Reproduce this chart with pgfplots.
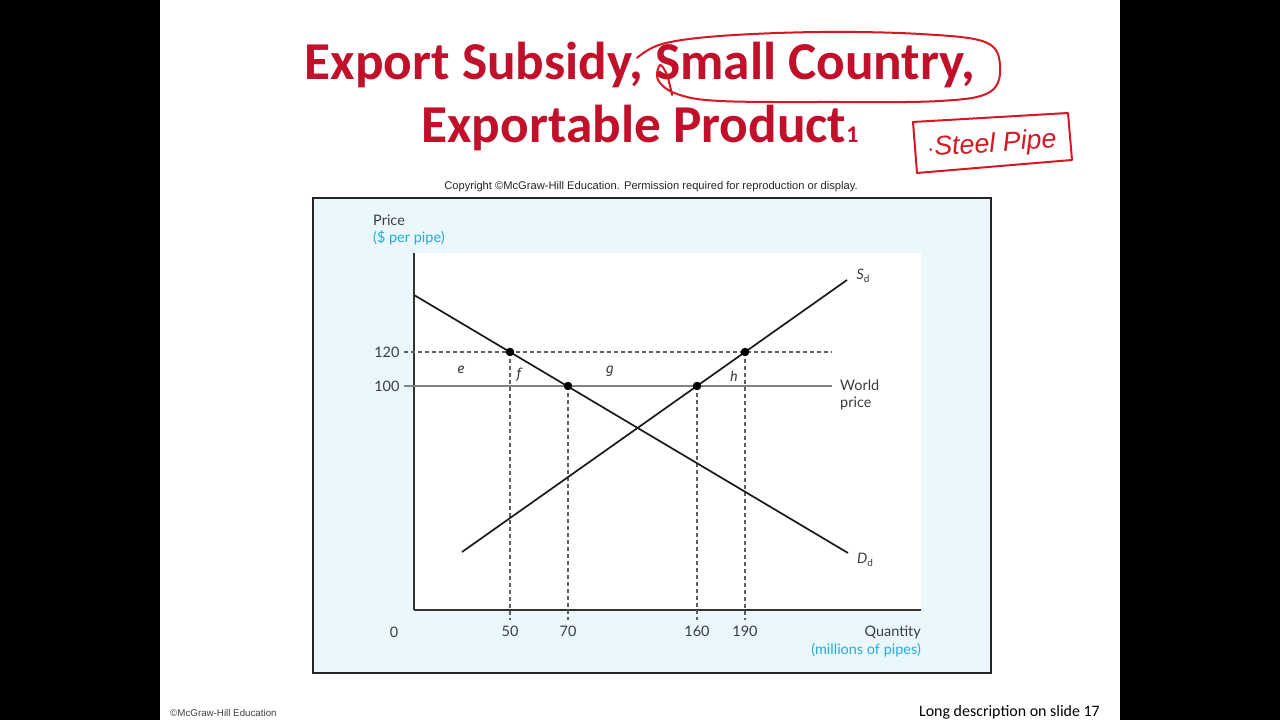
\documentclass[border=0pt]{standalone}
\usepackage{pgfplots}
\pgfplotsset{compat=1.18}
\usepackage{fontspec}
\setmainfont{Lato}
\newfontfamily\titlefont{Carlito}
\newfontfamily\arialfont{Liberation Sans}
\newfontfamily\letterfont{Fira Sans}
\definecolor{tred}{RGB}{192,16,42}
\definecolor{hred}{RGB}{214,24,34}
\definecolor{bgblue}{RGB}{234,247,252}
\definecolor{cyantext}{RGB}{38,170,222}
\definecolor{txt}{RGB}{60,60,60}
\definecolor{wgray}{RGB}{130,130,130}
\definecolor{dgray}{RGB}{95,95,95}
\begin{document}
\begin{tikzpicture}[x=1bp,y=1bp]
\useasboundingbox (0,0) rectangle (1280,720);
\fill[black] (0,0) rectangle (1280,720);
\fill[white] (160,0) rectangle (1120,720);
% title
\node[anchor=base, font=\titlefont\bfseries\fontsize{53.5}{60}\selectfont, text=tred, inner sep=0] at (640,640) {Export Subsidy, Small Country,};
\node[anchor=base, font=\titlefont\bfseries\fontsize{53.5}{60}\selectfont, text=tred, inner sep=0] at (640,577) {Exportable Product{\fontsize{24}{24}\selectfont 1}};
% handwriting ellipse
\draw[hred, line width=2bp, line cap=round, line join=round] plot[smooth, tension=0.6] coordinates {
 (637,662) (662,676) (720,684) (820,688) (920,686) (985,678) (1000,655) (990,628) (940,619) (830,618) (720,619) (677,626) (658,640) (660,655) (667,645) (672,625)};
% steel pipe box
\draw[hred, line width=2bp, line join=round] (913,598) -- (1068,607) -- (1072,560) -- (917,547) -- cycle;
\node[font=\arialfont\itshape\fontsize{27}{30}\selectfont, text=hred, rotate=4] at (992,575) {$\cdot$Steel Pipe};
% copyright
\node[anchor=base, font=\arialfont\fontsize{11.2}{13}\selectfont, text=black!85, inner sep=0] at (651,530) {Copyright \textcopyright McGraw-Hill Education. Permission required for reproduction or display.};
% chart box
\filldraw[fill=bgblue, draw=black!85, line width=1.5bp] (313,47) rectangle (991,522);
\fill[white] (414,110) rectangle (921,467);
\begin{axis}[
  at={(414,110)}, anchor=south west,
  scale only axis, width=507bp, height=357bp,
  xmin=414, xmax=921, ymin=110, ymax=467,
  axis x line*=bottom, axis y line*=left,
  axis line style={-, line width=1.3bp, draw=black!80},
  clip=false,
  xtick={510,568,697,745}, xticklabels={50,70,160,190},
  ytick={334,368}, yticklabels={100,120},
  major tick length=0pt,
  tick label style={font=\fontsize{14.5}{17}\selectfont, text=txt},
  /pgf/number format/assume math mode=true,
  xticklabel style={yshift=-13bp},
  yticklabel style={xshift=-11bp},
]
% world price
\addplot[wgray, line width=1.5bp] coordinates {(404,334) (832,334)};
% subsidized price 120
\addplot[dgray, line width=1.1bp, dash pattern=on 4bp off 3bp] coordinates {(404,368) (832,368)};
% vertical dashed lines
\addplot[dgray, line width=1.1bp, dash pattern=on 4bp off 3bp] coordinates {(510,368) (510,100)};
\addplot[dgray, line width=1.1bp, dash pattern=on 4bp off 3bp] coordinates {(568,334) (568,100)};
\addplot[dgray, line width=1.1bp, dash pattern=on 4bp off 3bp] coordinates {(697,334) (697,100)};
\addplot[dgray, line width=1.1bp, dash pattern=on 4bp off 3bp] coordinates {(745,368) (745,100)};
% demand
\addplot[black!90, line width=1.7bp] coordinates {(414,425) (848,167)};
% supply
\addplot[black!90, line width=1.7bp] coordinates {(462,168) (847,440)};
% points
\addplot[only marks, mark=*, mark size=4bp, black] coordinates {(510,368) (568,334) (697,334) (745,368)};
% labels
\node[font=\letterfont\itshape\fontsize{14}{16}\selectfont, text=txt] at (axis cs:461,350) {e};
\node[font=\letterfont\itshape\fontsize{14}{16}\selectfont, text=txt] at (axis cs:519,345) {f};
\node[font=\letterfont\itshape\fontsize{14}{16}\selectfont, text=txt] at (axis cs:610,349) {g};
\node[font=\letterfont\itshape\fontsize{14}{16}\selectfont, text=txt] at (axis cs:734,344) {h};
\node[font=\fontsize{14.5}{16}\selectfont, text=txt] at (axis cs:863,444) {\textit{S}\raisebox{-0.35ex}{\fontsize{10}{10}\selectfont d}};
\node[font=\fontsize{14.5}{16}\selectfont, text=txt] at (axis cs:865,160) {\textit{D}\raisebox{-0.35ex}{\fontsize{10}{10}\selectfont d}};
\node[anchor=west, font=\fontsize{14.5}{16}\selectfont, text=txt, inner sep=0] at (axis cs:840,335) {World};
\node[anchor=west, font=\fontsize{14.5}{16}\selectfont, text=txt, inner sep=0] at (axis cs:840,317) {price};
\node[font=\fontsize{14.5}{16}\selectfont, text=txt] at (axis cs:394,88) {0};
\node[anchor=east, font=\fontsize{14.5}{16}\selectfont, text=txt, inner sep=0] at (axis cs:921,88) {Quantity};
\node[anchor=east, font=\fontsize{14.5}{16}\selectfont, text=cyantext, inner sep=0] at (axis cs:921,70) {(millions of pipes)};
\node[anchor=west, font=\fontsize{14.5}{16}\selectfont, text=txt, inner sep=0] at (axis cs:373,500) {Price};
\node[anchor=west, font=\fontsize{14.5}{16}\selectfont, text=cyantext, inner sep=0] at (axis cs:373,482) {(\$ per pipe)};
\end{axis}
% footer
\node[anchor=west, font=\arialfont\fontsize{9.8}{11}\selectfont, text=black!75, inner sep=0] at (170,7) {\textcopyright McGraw-Hill Education};
\node[anchor=base east, font=\titlefont\fontsize{16}{18}\selectfont, text=black, inner sep=0] at (1100,3) {Long description on slide 17};
\end{tikzpicture}
\end{document}
